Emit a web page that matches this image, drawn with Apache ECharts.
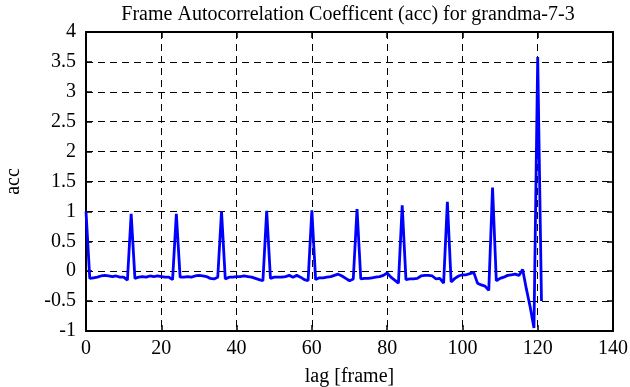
<!DOCTYPE html>
<html>
<head>
<meta charset="utf-8">
<script src="https://cdn.jsdelivr.net/npm/echarts@6/dist/echarts.min.js"></script>
<style>html,body{margin:0;padding:0;background:#fff}#c{width:630px;height:387px}</style>
</head>
<body>
<div id="c"></div>
<script>
const titleText = 'Frame Autocorrelation Coefficent (acc) for grandma-7-3';
const xName = 'lag [frame]';
const yName = 'acc';
const xTicks = [0, 20, 40, 60, 80, 100, 120, 140];
const yTicks = [-1, -0.5, 0, 0.5, 1, 1.5, 2, 2.5, 3, 3.5, 4];
// acc value at lag 0,1,2,...
const acc = [
  1.0, -0.12, -0.11, -0.1, -0.08, -0.07, -0.08, -0.09, -0.08, -0.1,
  -0.1, -0.15, 0.96, -0.12, -0.1, -0.09, -0.1, -0.08, -0.09, -0.08,
  -0.09, -0.1, -0.1, -0.14, 0.96, -0.1, -0.1, -0.09, -0.1, -0.08,
  -0.07, -0.08, -0.09, -0.12, -0.13, -0.1, 1.0, -0.13, -0.1, -0.1,
  -0.09, -0.09, -0.08, -0.09, -0.1, -0.12, -0.14, -0.16, 1.01, -0.12,
  -0.1, -0.1, -0.1, -0.09, -0.07, -0.1, -0.07, -0.1, -0.14, -0.16,
  1.02, -0.14, -0.11, -0.11, -0.1, -0.09, -0.07, -0.05, -0.08, -0.12,
  -0.16, -0.13, 1.04, -0.13, -0.12, -0.12, -0.11, -0.1, -0.09, -0.07,
  -0.03, -0.1, -0.15, -0.2, 1.1, -0.14, -0.13, -0.13, -0.12, -0.08,
  -0.07, -0.07, -0.08, -0.13, -0.12, -0.2, 1.16, -0.18, -0.12, -0.08,
  -0.06, -0.06, -0.04, -0.02, -0.2, -0.23, -0.25, -0.32, 1.4, -0.16,
  -0.12, -0.1, -0.07, -0.06, -0.05, -0.07, 0.03, -0.3, -0.6, -0.95,
  3.58, -0.5
];
const lags = acc.map((_, i) => i);
const seriesData = lags.map((l, i) => [l, acc[i]]);

const FONT = 'Liberation Serif';
const FS = 20;
const chart = echarts.init(document.getElementById('c'), null, {renderer: 'canvas'});
const axisLine = {show: true, onZero: false, lineStyle: {color: '#000', width: 2}};
const tick = {show: true, inside: true, length: 6, lineStyle: {color: '#000', width: 1.5}};
const split = {show: true, lineStyle: {color: '#000', width: 1, type: [7, 5]}};
const lbl = {color: '#000', fontFamily: FONT, fontSize: FS};
const xMin = xTicks[0], xMax = xTicks[xTicks.length - 1];
const yMin = yTicks[0], yMax = yTicks[yTicks.length - 1];
chart.setOption({
  animation: false,
  title: {text: titleText, left: 343, textAlign: 'center', top: 0,
    textStyle: {color: '#000', fontFamily: FONT, fontSize: FS, fontWeight: 'normal'}},
  grid: {left: 86, right: 17, top: 32, bottom: 56, containLabel: false, outerBoundsMode: 'none'},
  xAxis: [
    {type: 'value', min: xMin, max: xMax, interval: 20, position: 'bottom',
      name: xName, nameLocation: 'middle', nameGap: 36,
      nameTextStyle: {color: '#000', fontFamily: FONT, fontSize: FS},
      axisLine, axisTick: tick, splitLine: split,
      axisLabel: Object.assign({margin: 8}, lbl)},
    {type: 'value', min: xMin, max: xMax, interval: 20, position: 'top',
      axisLine, axisTick: tick, splitLine: {show: false}, axisLabel: {show: false}}
  ],
  yAxis: [
    {type: 'value', min: yMin, max: yMax, interval: 0.5, position: 'left',
      name: yName, nameLocation: 'middle', nameGap: 62, nameRotate: 90,
      nameTextStyle: {color: '#000', fontFamily: FONT, fontSize: FS},
      axisLine, axisTick: tick, splitLine: split,
      axisLabel: Object.assign({margin: 10}, lbl)},
    {type: 'value', min: yMin, max: yMax, interval: 0.5, position: 'right',
      axisLine, axisTick: tick, splitLine: {show: false}, axisLabel: {show: false}}
  ],
  series: [{
    type: 'line', data: seriesData, showSymbol: false, symbol: 'none',
    lineStyle: {color: '#0000ff', width: 2.8}, xAxisIndex: 0, yAxisIndex: 0
  }]
});
</script>
</body>
</html>
